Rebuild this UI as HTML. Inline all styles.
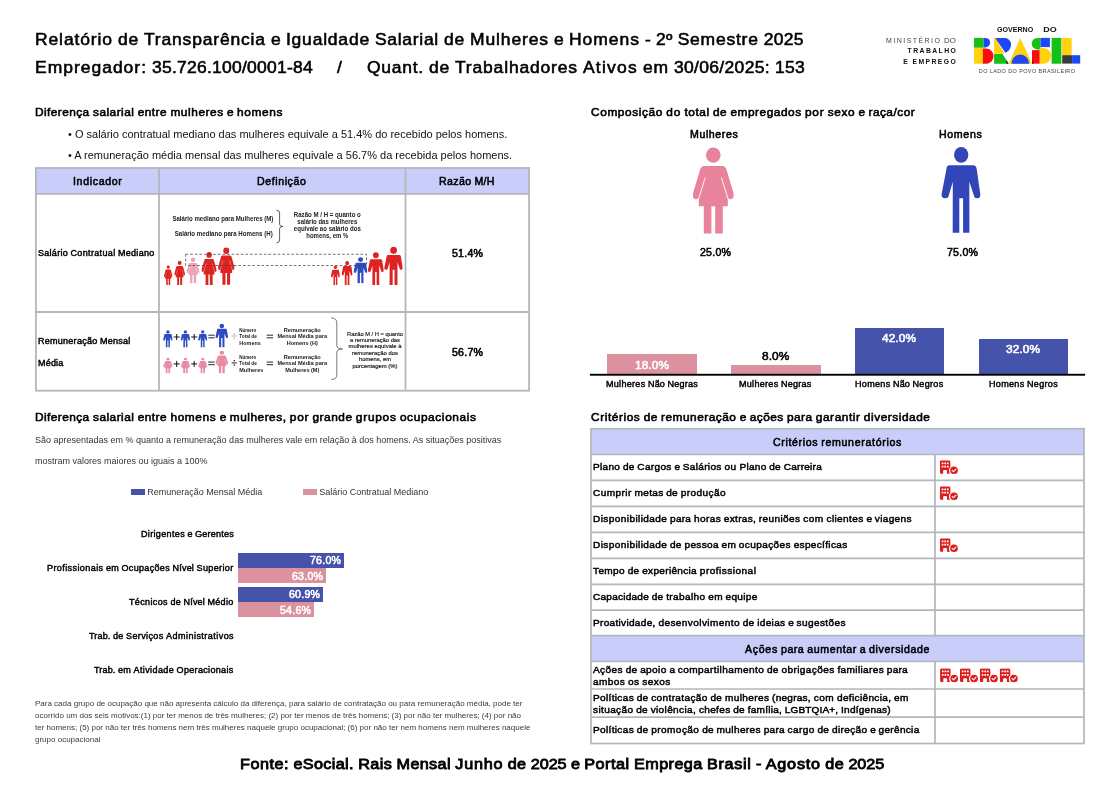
<!DOCTYPE html>
<html lang="pt-BR"><head><meta charset="utf-8"><title>Relatório de Transparência e Igualdade Salarial</title>
<style>
html,body{margin:0;padding:0;background:#fff;}
body{width:1120px;height:792px;position:relative;overflow:hidden;font-family:"Liberation Sans",sans-serif;}
.t{position:absolute;white-space:nowrap;font-weight:normal;line-height:30px;}
.b{position:absolute;}
svg{position:absolute;overflow:visible;}
.img{font-family:"Liberation Sans",sans-serif;}
</style></head><body>
<svg width="0" height="0" style="position:absolute"><defs>
<symbol id="man" viewBox="0 0 40 87" preserveAspectRatio="none">
<ellipse cx="20.2" cy="8.9" rx="7.1" ry="7.9"/>
<path d="M8 19.3 L32.6 19.3 Q35.5 19.5 35.9 24.3 L39.3 48.3 Q39.6 52.3 36.5 52.3 Q33.8 52.3 33.4 51 L28.3 35.7 L28.4 86.8 L22.1 86.8 L22.1 52.3 L18.3 52.3 L18.3 86.8 L11.7 86.8 L11.8 35.7 L7.3 51 Q6.5 52.3 4 52.3 Q0.3 52.3 0.6 48.3 L5.2 24.3 Q5.5 19.5 8 19.3Z"/>
</symbol>
<symbol id="woman" viewBox="0 0 42 87" preserveAspectRatio="none">
<ellipse cx="21.3" cy="8.15" rx="7.3" ry="7.6"/>
<path d="M11.8 18.9 L30.8 18.9 Q34 19.2 34.9 23.9 L41.5 46 Q42.4 52.3 38.6 52.3 Q36.4 52.3 35.8 50.5 L35.8 59.3 L30.8 59.3 L30.8 86.4 L23.2 86.4 L23.2 59.3 L19.4 59.3 L19.4 86.4 L11.8 86.4 L11.8 59.3 L6.8 59.3 L6.8 50.5 Q6.2 52.3 4 52.3 Q0.2 52.3 1.1 46 L7.7 23.9 Q8.6 19.2 11.8 18.9Z"/>
<path d="M13.2 30.5 L6.6 52 M29.4 30.5 L36 52" stroke="#fff" stroke-width="0.9" fill="none"/>
</symbol>
<symbol id="bld" viewBox="0 0 20 15" preserveAspectRatio="none">
<path fill-rule="evenodd" d="M1.6 0.3 H9.6 Q11.1 0.3 11.1 1.8 V7.2 Q9.6 8.6 9.6 10.9 Q9.6 12.8 10.7 14.3 H7.6 V11.4 Q7.6 10.3 6.5 10.3 H4.7 Q3.6 10.3 3.6 11.4 V14.3 H1.6 Q0.2 14.3 0.2 12.9 V1.8 Q0.2 0.3 1.6 0.3Z M2.1 2.4 V4.2 H3.9 V2.4Z M4.8 2.4 V4.2 H6.6 V2.4Z M7.5 2.4 V4.2 H9.3 V2.4Z M2.1 6 V7.8 H3.9 V6Z M4.8 6 V7.8 H6.6 V6Z M7.5 6 V7.8 H9.3 V6Z"/>
<circle cx="14.9" cy="10.6" r="4"/>
<path d="M12.9 10.6 L14.3 12 L16.9 9.3" stroke="#fff" stroke-width="1.1" fill="none" stroke-linecap="round" stroke-linejoin="round"/>
</symbol>
<filter id="soft" x="-5%" y="-5%" width="110%" height="110%"><feGaussianBlur stdDeviation="0.3"/></filter>
</defs></svg>

<div class="t" style="left:35.00px;top:24px;font-size:16.2px;color:#000;-webkit-text-stroke:0.55px #000;word-spacing:0.13px;transform:scaleX(1.08);transform-origin:0 0;"><span style="letter-spacing:0.82px">Relatório</span> <span style="letter-spacing:0.72px">de</span> <span style="letter-spacing:0.77px">Transparência</span> <span style="letter-spacing:0.26px">e</span> <span style="letter-spacing:0.74px">Igualdade</span> <span style="letter-spacing:0.66px">Salarial</span> <span style="letter-spacing:0.72px">de</span> <span style="letter-spacing:0.82px">Mulheres</span> <span style="letter-spacing:0.26px">e</span> <span style="letter-spacing:0.91px">Homens</span> <span style="letter-spacing:0.16px">-</span> <span style="letter-spacing:0.21px">2º</span> <span style="letter-spacing:0.72px">Semestre</span> <span style="letter-spacing:0.26px">2025</span></div>
<div class="t" style="left:35.00px;top:52px;font-size:16.2px;color:#000;-webkit-text-stroke:0.55px #000;word-spacing:0.13px;transform:scaleX(1.08);transform-origin:0 0;"><span style="letter-spacing:0.92px">Empregador:</span> <span style="letter-spacing:0.23px">35.726.100/0001-84</span></div>
<div class="t" style="left:336.60px;top:52px;font-size:16.2px;color:#000;-webkit-text-stroke:0.55px #000;word-spacing:0.13px;transform:scaleX(1.08);transform-origin:0 0;"><span style="letter-spacing:0.13px">/</span></div>
<div class="t" style="left:367.00px;top:52px;font-size:16.2px;color:#000;-webkit-text-stroke:0.55px #000;word-spacing:0.13px;transform:scaleX(1.08);transform-origin:0 0;"><span style="letter-spacing:0.69px">Quant.</span> <span style="letter-spacing:0.72px">de</span> <span style="letter-spacing:0.77px">Trabalhadores</span> <span style="letter-spacing:1.14px">Ativos</span> <span style="letter-spacing:0.79px">em</span> <span style="letter-spacing:0.31px">30/06/2025:</span> <span style="letter-spacing:0.26px">153</span></div>
<div class="t" style="left:35.00px;top:97px;font-size:11.3px;color:#000;-webkit-text-stroke:0.58px #000;word-spacing:0.04px;transform:scaleX(1.05);transform-origin:0 0;"><span style="letter-spacing:0.41px">Diferença</span> <span style="letter-spacing:0.45px">salarial</span> <span style="letter-spacing:0.44px">entre</span> <span style="letter-spacing:0.54px">mulheres</span> <span style="letter-spacing:0.07px">e</span> <span style="letter-spacing:0.60px">homens</span></div>
<div class="t" style="left:68.00px;top:119px;font-size:11px;color:#111;">• O salário contratual mediano das mulheres equivale a 51.4% do recebido pelos homens.</div>
<div class="t" style="left:68.00px;top:140px;font-size:11px;color:#111;">• A remuneração média mensal das mulheres equivale a 56.7% da recebida pelos homens.</div>
<div class="b" style="left:36.00px;top:168.00px;width:493.00px;height:25.80px;background:#c8cdfa;"></div>
<svg style="left:0;top:0" width="1120" height="792" viewBox="0 0 1120 792"><g stroke="#b3b6bb" stroke-width="1.8" fill="none"><rect x="35.9" y="168" width="493.20000000000005" height="222.7"/><line x1="35.9" y1="193.9" x2="529.1" y2="193.9"/><line x1="35.9" y1="312" x2="529.1" y2="312"/><line x1="159" y1="168" x2="159" y2="390.7"/><line x1="405.5" y1="168" x2="405.5" y2="390.7"/></g></svg>
<div class="t" style="left:72.75px;top:167px;font-size:10.1px;color:#000;-webkit-text-stroke:0.53px #000;word-spacing:0.10px;transform:scaleX(1.05);transform-origin:0 0;"><span style="letter-spacing:0.62px">Indicador</span></div>
<div class="t" style="left:257.44px;top:167px;font-size:10.1px;color:#000;-webkit-text-stroke:0.53px #000;word-spacing:0.10px;transform:scaleX(1.05);transform-origin:0 0;"><span style="letter-spacing:0.56px">Definição</span></div>
<div class="t" style="left:439.49px;top:167px;font-size:10.1px;color:#000;-webkit-text-stroke:0.53px #000;word-spacing:0.10px;transform:scaleX(1.05);transform-origin:0 0;"><span style="letter-spacing:0.33px">Razão</span> <span style="letter-spacing:0.23px">M/H</span></div>
<div class="t" style="left:37.60px;top:238px;font-size:8.6px;color:#000;-webkit-text-stroke:0.43px #000;word-spacing:-0.01px;transform:scaleX(1.05);transform-origin:0 0;"><span style="letter-spacing:0.26px">Salário</span> <span style="letter-spacing:0.32px">Contratual</span> <span style="letter-spacing:0.25px">Mediano</span></div>
<div class="t" style="left:37.60px;top:326px;font-size:8.6px;color:#000;-webkit-text-stroke:0.43px #000;word-spacing:-0.01px;transform:scaleX(1.05);transform-origin:0 0;"><span style="letter-spacing:0.24px">Remuneração</span> <span style="letter-spacing:0.22px">Mensal</span></div>
<div class="t" style="left:37.60px;top:348px;font-size:8.6px;color:#000;-webkit-text-stroke:0.43px #000;word-spacing:-0.01px;transform:scaleX(1.05);transform-origin:0 0;"><span style="letter-spacing:0.17px">Média</span></div>
<div class="t" style="left:451.71px;top:239px;font-size:10.1px;color:#000;-webkit-text-stroke:0.53px #000;word-spacing:0.10px;transform:scaleX(1.05);transform-origin:0 0;"><span style="letter-spacing:0.21px">51.4%</span></div>
<div class="t" style="left:451.71px;top:338px;font-size:10.1px;color:#000;-webkit-text-stroke:0.53px #000;word-spacing:0.10px;transform:scaleX(1.05);transform-origin:0 0;"><span style="letter-spacing:0.21px">56.7%</span></div>
<svg class="img" style="left:0;top:0" width="1120" height="792" viewBox="0 0 1120 792">
<g id="def1" filter="url(#soft)">
<text x="273.4" y="220.8" font-size="6.7" text-anchor="end" font-weight="bold" fill="#222" textLength="101" lengthAdjust="spacingAndGlyphs">Salário mediano para Mulheres (M)</text>
<text x="272.7" y="235.7" font-size="6.7" text-anchor="end" font-weight="bold" fill="#222" textLength="98" lengthAdjust="spacingAndGlyphs">Salário mediano para Homens (H)</text>
<path d="M276.4 210.2 Q279.6 210.2 279.6 213 L279.6 224.3 Q279.6 226.5 282.8 226.5 Q279.6 226.5 279.6 228.7 L279.6 240 Q279.6 242.8 276.4 242.8" fill="none" stroke="#333" stroke-width="0.8"/>
<text x="327.3" y="217.1" font-size="6.7" text-anchor="middle" font-weight="bold" fill="#222" textLength="67" lengthAdjust="spacingAndGlyphs">Razão M / H = quanto o</text>
<text x="327.3" y="224.2" font-size="6.7" text-anchor="middle" font-weight="bold" fill="#222" textLength="60" lengthAdjust="spacingAndGlyphs">salário das mulheres</text>
<text x="327.3" y="231.29999999999998" font-size="6.7" text-anchor="middle" font-weight="bold" fill="#222" textLength="67" lengthAdjust="spacingAndGlyphs">equivale ao salário dos</text>
<text x="327.3" y="238.39999999999998" font-size="6.7" text-anchor="middle" font-weight="bold" fill="#222" textLength="42" lengthAdjust="spacingAndGlyphs">homens, em %</text>
<use href="#woman" x="163.70" y="265.20" width="8.90" height="20.00" fill="#df2222"/>
<use href="#woman" x="174.10" y="260.60" width="11.00" height="24.60" fill="#df2222"/>
<use href="#woman" x="186.30" y="257.30" width="13.40" height="26.10" fill="#e9a6ba"/>
<use href="#woman" x="201.20" y="251.80" width="15.60" height="33.40" fill="#df2222"/>
<use href="#woman" x="217.60" y="247.30" width="17.10" height="37.60" fill="#df2222"/>
<use href="#man" x="330.80" y="265.20" width="9.20" height="20.00" fill="#df2222"/>
<use href="#man" x="341.50" y="260.60" width="11.20" height="24.60" fill="#df2222"/>
<use href="#man" x="353.40" y="256.90" width="14.20" height="26.50" fill="#2f4cc2"/>
<use href="#man" x="367.60" y="251.80" width="16.40" height="33.40" fill="#df2222"/>
<use href="#man" x="384.00" y="246.40" width="19.00" height="38.80" fill="#df2222"/>
<rect x="185.6" y="254.3" width="180.9" height="11.2" fill="none" stroke="#3a3a3a" stroke-width="0.7" stroke-dasharray="2.7 1.9"/>
</g>
<g id="def2" filter="url(#soft)">
<use href="#man" x="163.00" y="330.10" width="9.75" height="17.50" fill="#2f4cc2"/>
<use href="#man" x="180.50" y="330.10" width="9.75" height="17.50" fill="#2f4cc2"/>
<use href="#man" x="198.00" y="330.10" width="9.40" height="17.50" fill="#2f4cc2"/>
<use href="#man" x="215.25" y="323.50" width="13.00" height="24.10" fill="#2f4cc2"/>
<path d="M173.7 337H179.7M176.7 334V340" stroke="#111" stroke-width="1" fill="none"/>
<path d="M191.2 337H197.2M194.2 334V340" stroke="#111" stroke-width="1" fill="none"/>
<path d="M208.3 335.2H214.7M208.3 337.8H214.7" stroke="#111" stroke-width="0.9" fill="none"/>
<path d="M231.65 336H236.85" stroke="#aaa" stroke-width="0.9" fill="none"/><circle cx="234.25" cy="333.9" r="0.75" fill="#aaa"/><circle cx="234.25" cy="338.1" r="0.75" fill="#aaa"/>
<text x="239.3" y="332.1" font-size="5.4" text-anchor="start" font-weight="bold" fill="#222" textLength="17" lengthAdjust="spacingAndGlyphs">Número</text>
<text x="239.3" y="338.35" font-size="5.4" text-anchor="start" font-weight="bold" fill="#222" textLength="17.5" lengthAdjust="spacingAndGlyphs">Total de</text>
<text x="239.3" y="344.6" font-size="5.4" text-anchor="start" font-weight="bold" fill="#222" textLength="21.5" lengthAdjust="spacingAndGlyphs">Homens</text>
<path d="M266.7 335.2H273.09999999999997M266.7 337.8H273.09999999999997" stroke="#111" stroke-width="0.9" fill="none"/>
<text x="302.25" y="332.1" font-size="5.4" text-anchor="middle" font-weight="bold" fill="#222" textLength="37" lengthAdjust="spacingAndGlyphs">Remuneração</text>
<text x="302.25" y="338.35" font-size="5.4" text-anchor="middle" font-weight="bold" fill="#222" textLength="49.6" lengthAdjust="spacingAndGlyphs">Mensal Média para</text>
<text x="302.25" y="344.6" font-size="5.4" text-anchor="middle" font-weight="bold" fill="#222" textLength="31" lengthAdjust="spacingAndGlyphs">Homens (H)</text>
<use href="#woman" x="163.00" y="357.60" width="9.75" height="15.80" fill="#e98aa3"/>
<use href="#woman" x="180.50" y="357.60" width="9.75" height="15.80" fill="#e98aa3"/>
<use href="#woman" x="198.00" y="357.60" width="9.40" height="15.80" fill="#e98aa3"/>
<use href="#woman" x="215.25" y="350.50" width="13.00" height="22.90" fill="#e98aa3"/>
<path d="M173.7 363.9H179.7M176.7 360.9V366.9" stroke="#111" stroke-width="1" fill="none"/>
<path d="M191.2 363.9H197.2M194.2 360.9V366.9" stroke="#111" stroke-width="1" fill="none"/>
<path d="M208.3 362.09999999999997H214.7M208.3 364.7H214.7" stroke="#111" stroke-width="0.9" fill="none"/>
<path d="M231.65 362.9H236.85" stroke="#111" stroke-width="0.9" fill="none"/><circle cx="234.25" cy="360.79999999999995" r="0.75" fill="#111"/><circle cx="234.25" cy="365.0" r="0.75" fill="#111"/>
<text x="239.3" y="359.0" font-size="5.4" text-anchor="start" font-weight="bold" fill="#222" textLength="17" lengthAdjust="spacingAndGlyphs">Número</text>
<text x="239.3" y="365.25" font-size="5.4" text-anchor="start" font-weight="bold" fill="#222" textLength="17.5" lengthAdjust="spacingAndGlyphs">Total de</text>
<text x="239.3" y="371.5" font-size="5.4" text-anchor="start" font-weight="bold" fill="#222" textLength="24" lengthAdjust="spacingAndGlyphs">Mulheres</text>
<path d="M266.7 362.09999999999997H273.09999999999997M266.7 364.7H273.09999999999997" stroke="#111" stroke-width="0.9" fill="none"/>
<text x="302.25" y="359.0" font-size="5.4" text-anchor="middle" font-weight="bold" fill="#222" textLength="37" lengthAdjust="spacingAndGlyphs">Remuneração</text>
<text x="302.25" y="365.25" font-size="5.4" text-anchor="middle" font-weight="bold" fill="#222" textLength="49.6" lengthAdjust="spacingAndGlyphs">Mensal Média para</text>
<text x="302.25" y="371.5" font-size="5.4" text-anchor="middle" font-weight="bold" fill="#222" textLength="34" lengthAdjust="spacingAndGlyphs">Mulheres (M)</text>
<path d="M331.3 318 Q336.8 318 336.8 323 L336.8 345.5 Q336.8 349 342.5 349 Q336.8 349 336.8 352.5 L336.8 374.5 Q336.8 379.5 331.3 379.5" fill="none" stroke="#555" stroke-width="0.8"/>
<text stroke="#111" stroke-width="0.15" x="375" y="335.5" font-size="5.9" text-anchor="middle" font-weight="normal" fill="#111" textLength="56" lengthAdjust="spacingAndGlyphs">Razão M / H = quanto</text>
<text stroke="#111" stroke-width="0.15" x="375" y="341.9" font-size="5.9" text-anchor="middle" font-weight="normal" fill="#111" textLength="50" lengthAdjust="spacingAndGlyphs">a remuneração das</text>
<text stroke="#111" stroke-width="0.15" x="375" y="348.3" font-size="5.9" text-anchor="middle" font-weight="normal" fill="#111" textLength="53" lengthAdjust="spacingAndGlyphs">mulheres equivale à</text>
<text stroke="#111" stroke-width="0.15" x="375" y="354.7" font-size="5.9" text-anchor="middle" font-weight="normal" fill="#111" textLength="46" lengthAdjust="spacingAndGlyphs">remuneração dos</text>
<text stroke="#111" stroke-width="0.15" x="375" y="361.1" font-size="5.9" text-anchor="middle" font-weight="normal" fill="#111" textLength="32" lengthAdjust="spacingAndGlyphs">homens, em</text>
<text stroke="#111" stroke-width="0.15" x="375" y="367.5" font-size="5.9" text-anchor="middle" font-weight="normal" fill="#111" textLength="45" lengthAdjust="spacingAndGlyphs">porcentagem (%)</text>
</g></svg>
<div class="t" style="left:590.50px;top:97px;font-size:11.3px;color:#000;-webkit-text-stroke:0.58px #000;word-spacing:0.04px;transform:scaleX(1.05);transform-origin:0 0;"><span style="letter-spacing:0.58px">Composição</span> <span style="letter-spacing:0.70px">do</span> <span style="letter-spacing:0.55px">total</span> <span style="letter-spacing:0.38px">de</span> <span style="letter-spacing:0.51px">empregados</span> <span style="letter-spacing:0.69px">por</span> <span style="letter-spacing:0.55px">sexo</span> <span style="letter-spacing:0.07px">e</span> <span style="letter-spacing:0.46px">raça/cor</span></div>
<div class="t" style="left:689.65px;top:120px;font-size:10.1px;color:#000;-webkit-text-stroke:0.53px #000;word-spacing:0.10px;transform:scaleX(1.05);transform-origin:0 0;"><span style="letter-spacing:0.56px">Mulheres</span></div>
<div class="t" style="left:939.40px;top:120px;font-size:10.1px;color:#000;-webkit-text-stroke:0.53px #000;word-spacing:0.10px;transform:scaleX(1.05);transform-origin:0 0;"><span style="letter-spacing:0.62px">Homens</span></div>
<div class="t" style="left:699.61px;top:238px;font-size:10.1px;color:#000;-webkit-text-stroke:0.53px #000;word-spacing:0.10px;transform:scaleX(1.05);transform-origin:0 0;"><span style="letter-spacing:0.21px">25.0%</span></div>
<div class="t" style="left:947.11px;top:238px;font-size:10.1px;color:#000;-webkit-text-stroke:0.53px #000;word-spacing:0.10px;transform:scaleX(1.05);transform-origin:0 0;"><span style="letter-spacing:0.21px">75.0%</span></div>
<svg style="left:0;top:0" width="1120" height="792" viewBox="0 0 1120 792"><use href="#woman" x="692.00" y="147.00" width="42.00" height="87.00" fill="#e9829b"/><use href="#man" x="941.00" y="146.00" width="40.00" height="87.00" fill="#3245b9"/></svg>
<div class="b" style="left:607.00px;top:354.25px;width:89.75px;height:19.95px;background:#dc919f;"></div>
<div class="t" style="left:634.86px;top:350px;font-size:11.3px;color:#fff;-webkit-text-stroke:0.58px #fff;word-spacing:0.04px;transform:scaleX(1.05);transform-origin:0 0;"><span style="letter-spacing:0.07px">18.0%</span></div>
<div class="t" style="left:605.86px;top:369px;font-size:8.6px;color:#000;-webkit-text-stroke:0.43px #000;word-spacing:-0.01px;transform:scaleX(1.05);transform-origin:0 0;"><span style="letter-spacing:0.28px">Mulheres</span> <span style="letter-spacing:0.14px">Não</span> <span style="letter-spacing:0.22px">Negras</span></div>
<div class="b" style="left:730.75px;top:365.00px;width:89.75px;height:9.20px;background:#dc919f;"></div>
<div class="t" style="left:761.95px;top:341px;font-size:11.3px;color:#000;-webkit-text-stroke:0.58px #000;word-spacing:0.04px;transform:scaleX(1.05);transform-origin:0 0;"><span style="letter-spacing:0.07px">8.0%</span></div>
<div class="t" style="left:739.36px;top:369px;font-size:8.6px;color:#000;-webkit-text-stroke:0.43px #000;word-spacing:-0.01px;transform:scaleX(1.05);transform-origin:0 0;"><span style="letter-spacing:0.28px">Mulheres</span> <span style="letter-spacing:0.22px">Negras</span></div>
<div class="b" style="left:854.50px;top:327.50px;width:89.75px;height:46.70px;background:#4653ab;"></div>
<div class="t" style="left:882.36px;top:323px;font-size:11.3px;color:#fff;-webkit-text-stroke:0.58px #fff;word-spacing:0.04px;transform:scaleX(1.05);transform-origin:0 0;"><span style="letter-spacing:0.07px">42.0%</span></div>
<div class="t" style="left:855.12px;top:369px;font-size:8.6px;color:#000;-webkit-text-stroke:0.43px #000;word-spacing:-0.01px;transform:scaleX(1.05);transform-origin:0 0;"><span style="letter-spacing:0.30px">Homens</span> <span style="letter-spacing:0.14px">Não</span> <span style="letter-spacing:0.30px">Negros</span></div>
<div class="b" style="left:978.50px;top:338.75px;width:89.75px;height:35.45px;background:#4653ab;"></div>
<div class="t" style="left:1006.36px;top:334px;font-size:11.3px;color:#fff;-webkit-text-stroke:0.58px #fff;word-spacing:0.04px;transform:scaleX(1.05);transform-origin:0 0;"><span style="letter-spacing:0.07px">32.0%</span></div>
<div class="t" style="left:988.87px;top:369px;font-size:8.6px;color:#000;-webkit-text-stroke:0.43px #000;word-spacing:-0.01px;transform:scaleX(1.05);transform-origin:0 0;"><span style="letter-spacing:0.30px">Homens</span> <span style="letter-spacing:0.30px">Negros</span></div>
<svg style="left:0;top:0" width="1120" height="792" viewBox="0 0 1120 792"><rect x="589.9" y="373.8" width="495.2" height="1.9" fill="#000"/></svg>
<div class="t" style="left:35.00px;top:402px;font-size:11.3px;color:#000;-webkit-text-stroke:0.58px #000;word-spacing:0.04px;transform:scaleX(1.05);transform-origin:0 0;"><span style="letter-spacing:0.41px">Diferença</span> <span style="letter-spacing:0.45px">salarial</span> <span style="letter-spacing:0.44px">entre</span> <span style="letter-spacing:0.60px">homens</span> <span style="letter-spacing:0.07px">e</span> <span style="letter-spacing:0.49px">mulheres,</span> <span style="letter-spacing:0.69px">por</span> <span style="letter-spacing:0.49px">grande</span> <span style="letter-spacing:0.70px">grupos</span> <span style="letter-spacing:0.59px">ocupacionais</span></div>
<div class="t" style="left:35.00px;top:425px;font-size:9px;color:#333;">São apresentadas em % quanto a remuneração das mulheres vale em relação à dos homens. As situações positivas</div>
<div class="t" style="left:35.00px;top:446px;font-size:9px;color:#333;">mostram valores maiores ou iguais a 100%</div>
<div class="b" style="left:130.50px;top:489.40px;width:14.60px;height:5.80px;background:#4653ab;"></div>
<div class="t" style="left:147.30px;top:477px;font-size:9px;color:#333;">Remuneração Mensal Média</div>
<div class="b" style="left:302.50px;top:489.40px;width:14.60px;height:5.80px;background:#dc919f;"></div>
<div class="t" style="left:319.30px;top:477px;font-size:9px;color:#333;">Salário Contratual Mediano</div>
<div class="t" style="left:140.56px;top:519px;font-size:8.6px;color:#000;-webkit-text-stroke:0.43px #000;word-spacing:-0.01px;transform:scaleX(1.05);transform-origin:0 0;"><span style="letter-spacing:0.32px">Dirigentes</span> <span style="letter-spacing:-0.02px">e</span> <span style="letter-spacing:0.22px">Gerentes</span></div>
<div class="t" style="left:47.03px;top:553px;font-size:8.6px;color:#000;-webkit-text-stroke:0.43px #000;word-spacing:-0.01px;transform:scaleX(1.05);transform-origin:0 0;"><span style="letter-spacing:0.39px">Profissionais</span> <span style="letter-spacing:0.22px">em</span> <span style="letter-spacing:0.30px">Ocupações</span> <span style="letter-spacing:0.18px">Nível</span> <span style="letter-spacing:0.34px">Superior</span></div>
<div class="t" style="left:129.07px;top:587px;font-size:8.6px;color:#000;-webkit-text-stroke:0.43px #000;word-spacing:-0.01px;transform:scaleX(1.05);transform-origin:0 0;"><span style="letter-spacing:0.34px">Técnicos</span> <span style="letter-spacing:0.22px">de</span> <span style="letter-spacing:0.18px">Nível</span> <span style="letter-spacing:0.27px">Médio</span></div>
<div class="t" style="left:88.88px;top:621px;font-size:8.6px;color:#000;-webkit-text-stroke:0.43px #000;word-spacing:-0.01px;transform:scaleX(1.05);transform-origin:0 0;"><span style="letter-spacing:0.15px">Trab.</span> <span style="letter-spacing:0.22px">de</span> <span style="letter-spacing:0.35px">Serviços</span> <span style="letter-spacing:0.43px">Administrativos</span></div>
<div class="t" style="left:94.39px;top:655px;font-size:8.6px;color:#000;-webkit-text-stroke:0.43px #000;word-spacing:-0.01px;transform:scaleX(1.05);transform-origin:0 0;"><span style="letter-spacing:0.15px">Trab.</span> <span style="letter-spacing:0.22px">em</span> <span style="letter-spacing:0.36px">Atividade</span> <span style="letter-spacing:0.30px">Operacionais</span></div>
<div class="b" style="left:237.80px;top:553.10px;width:106.20px;height:14.70px;background:#4653ab;"></div>
<div class="t" style="left:310.21px;top:546px;font-size:10.1px;color:#fff;-webkit-text-stroke:0.53px #fff;word-spacing:0.10px;transform:scaleX(1.05);transform-origin:0 0;"><span style="letter-spacing:0.21px">76.0%</span></div>
<div class="b" style="left:237.80px;top:568.10px;width:88.20px;height:14.60px;background:#dc919f;"></div>
<div class="t" style="left:292.21px;top:562px;font-size:10.1px;color:#fff;-webkit-text-stroke:0.53px #fff;word-spacing:0.10px;transform:scaleX(1.05);transform-origin:0 0;"><span style="letter-spacing:0.21px">63.0%</span></div>
<div class="b" style="left:237.80px;top:587.40px;width:85.10px;height:14.30px;background:#4653ab;"></div>
<div class="t" style="left:289.11px;top:580px;font-size:10.1px;color:#fff;-webkit-text-stroke:0.53px #fff;word-spacing:0.10px;transform:scaleX(1.05);transform-origin:0 0;"><span style="letter-spacing:0.21px">60.9%</span></div>
<div class="b" style="left:237.80px;top:602.00px;width:76.20px;height:14.50px;background:#dc919f;"></div>
<div class="t" style="left:280.21px;top:596px;font-size:10.1px;color:#fff;-webkit-text-stroke:0.53px #fff;word-spacing:0.10px;transform:scaleX(1.05);transform-origin:0 0;"><span style="letter-spacing:0.21px">54.6%</span></div>
<div class="t" style="left:35.00px;top:689px;font-size:8px;color:#3a3a3a;">Para cada grupo de ocupação que não apresenta cálculo da diferença, para salário de contratação ou para remuneração média, pode ter</div>
<div class="t" style="left:35.00px;top:701px;font-size:8px;color:#3a3a3a;">ocorrido um dos seis motivos:(1) por ter menos de três mulheres; (2) por ter menos de três homens; (3) por não ter mulheres; (4) por não</div>
<div class="t" style="left:35.00px;top:713px;font-size:8px;color:#3a3a3a;">ter homens; (5) por não ter três homens nem três mulheres naquele grupo ocupacional; (6) por não ter nem homens nem mulheres naquele</div>
<div class="t" style="left:35.00px;top:725px;font-size:8px;color:#3a3a3a;">grupo ocupacional</div>
<div class="t" style="left:240.00px;top:749px;font-size:15.0px;color:#000;-webkit-text-stroke:0.85px #000;word-spacing:-0.05px;transform:scaleX(1.08);transform-origin:0 0;"><span style="letter-spacing:0.46px">Fonte:</span> <span style="letter-spacing:0.33px">eSocial.</span> <span style="letter-spacing:0.32px">Rais</span> <span style="letter-spacing:0.31px">Mensal</span> <span style="letter-spacing:0.71px">Junho</span> <span style="letter-spacing:0.30px">de</span> <span style="letter-spacing:-0.10px">2025</span> <span style="letter-spacing:-0.10px">e</span> <span style="letter-spacing:0.47px">Portal</span> <span style="letter-spacing:0.36px">Emprega</span> <span style="letter-spacing:0.61px">Brasil</span> <span style="letter-spacing:-0.06px">-</span> <span style="letter-spacing:0.72px">Agosto</span> <span style="letter-spacing:0.30px">de</span> <span style="letter-spacing:-0.10px">2025</span></div>
<div class="t" style="left:590.50px;top:402px;font-size:11.3px;color:#000;-webkit-text-stroke:0.58px #000;word-spacing:0.04px;transform:scaleX(1.05);transform-origin:0 0;"><span style="letter-spacing:0.55px">Critérios</span> <span style="letter-spacing:0.38px">de</span> <span style="letter-spacing:0.47px">remuneração</span> <span style="letter-spacing:0.07px">e</span> <span style="letter-spacing:0.45px">ações</span> <span style="letter-spacing:0.38px">para</span> <span style="letter-spacing:0.53px">garantir</span> <span style="letter-spacing:0.52px">diversidade</span></div>
<div class="b" style="left:591.00px;top:429.00px;width:493.00px;height:25.00px;background:#c8cdfa;"></div>
<div class="b" style="left:591.00px;top:636.00px;width:493.00px;height:25.50px;background:#c8cdfa;"></div>
<svg style="left:0;top:0" width="1120" height="792" viewBox="0 0 1120 792"><g stroke="#b3b6bb" stroke-width="1.7" fill="none"><rect x="591" y="428.7" width="493" height="314.8"/><line x1="591" y1="454.5" x2="1084" y2="454.5"/><line x1="591" y1="480.4" x2="1084" y2="480.4"/><line x1="591" y1="506.3" x2="1084" y2="506.3"/><line x1="591" y1="532.3" x2="1084" y2="532.3"/><line x1="591" y1="558.3" x2="1084" y2="558.3"/><line x1="591" y1="584.3" x2="1084" y2="584.3"/><line x1="591" y1="610.2" x2="1084" y2="610.2"/><line x1="591" y1="635.6" x2="1084" y2="635.6"/><line x1="591" y1="661.5" x2="1084" y2="661.5"/><line x1="591" y1="689" x2="1084" y2="689"/><line x1="591" y1="717.2" x2="1084" y2="717.2"/><line x1="935" y1="454.5" x2="935" y2="635.6"/><line x1="935" y1="661.5" x2="935" y2="743.5"/></g></svg>
<div class="t" style="left:773.01px;top:428px;font-size:10.1px;color:#000;-webkit-text-stroke:0.53px #000;word-spacing:0.10px;transform:scaleX(1.05);transform-origin:0 0;"><span style="letter-spacing:0.61px">Critérios</span> <span style="letter-spacing:0.64px">remuneratórios</span></div>
<div class="t" style="left:744.88px;top:635px;font-size:10.1px;color:#000;-webkit-text-stroke:0.53px #000;word-spacing:0.10px;transform:scaleX(1.05);transform-origin:0 0;"><span style="letter-spacing:0.67px">Ações</span> <span style="letter-spacing:0.48px">para</span> <span style="letter-spacing:0.56px">aumentar</span> <span style="letter-spacing:0.21px">a</span> <span style="letter-spacing:0.60px">diversidade</span></div>
<div class="t" style="left:593.30px;top:452px;font-size:9.9px;color:#000;-webkit-text-stroke:0.48px #000;word-spacing:-0.03px;transform:scaleX(1.02);transform-origin:0 0;"><span style="letter-spacing:0.27px">Plano</span> <span style="letter-spacing:0.21px">de</span> <span style="letter-spacing:0.31px">Cargos</span> <span style="letter-spacing:-0.05px">e</span> <span style="letter-spacing:0.30px">Salários</span> <span style="letter-spacing:0.48px">ou</span> <span style="letter-spacing:0.27px">Plano</span> <span style="letter-spacing:0.21px">de</span> <span style="letter-spacing:0.23px">Carreira</span></div>
<div class="t" style="left:593.30px;top:478px;font-size:9.9px;color:#000;-webkit-text-stroke:0.48px #000;word-spacing:-0.03px;transform:scaleX(1.02);transform-origin:0 0;"><span style="letter-spacing:0.42px">Cumprir</span> <span style="letter-spacing:0.28px">metas</span> <span style="letter-spacing:0.21px">de</span> <span style="letter-spacing:0.42px">produção</span></div>
<div class="t" style="left:593.30px;top:504px;font-size:9.9px;color:#000;-webkit-text-stroke:0.48px #000;word-spacing:-0.03px;transform:scaleX(1.02);transform-origin:0 0;"><span style="letter-spacing:0.39px">Disponibilidade</span> <span style="letter-spacing:0.22px">para</span> <span style="letter-spacing:0.39px">horas</span> <span style="letter-spacing:0.27px">extras,</span> <span style="letter-spacing:0.36px">reuniões</span> <span style="letter-spacing:0.49px">com</span> <span style="letter-spacing:0.37px">clientes</span> <span style="letter-spacing:-0.05px">e</span> <span style="letter-spacing:0.34px">viagens</span></div>
<div class="t" style="left:593.30px;top:530px;font-size:9.9px;color:#000;-webkit-text-stroke:0.48px #000;word-spacing:-0.03px;transform:scaleX(1.02);transform-origin:0 0;"><span style="letter-spacing:0.39px">Disponibilidade</span> <span style="letter-spacing:0.21px">de</span> <span style="letter-spacing:0.31px">pessoa</span> <span style="letter-spacing:0.21px">em</span> <span style="letter-spacing:0.37px">ocupações</span> <span style="letter-spacing:0.30px">específicas</span></div>
<div class="t" style="left:593.30px;top:556px;font-size:9.9px;color:#000;-webkit-text-stroke:0.48px #000;word-spacing:-0.03px;transform:scaleX(1.02);transform-origin:0 0;"><span style="letter-spacing:0.34px">Tempo</span> <span style="letter-spacing:0.21px">de</span> <span style="letter-spacing:0.30px">experiência</span> <span style="letter-spacing:0.46px">profissional</span></div>
<div class="t" style="left:593.30px;top:582px;font-size:9.9px;color:#000;-webkit-text-stroke:0.48px #000;word-spacing:-0.03px;transform:scaleX(1.02);transform-origin:0 0;"><span style="letter-spacing:0.22px">Capacidade</span> <span style="letter-spacing:0.21px">de</span> <span style="letter-spacing:0.36px">trabalho</span> <span style="letter-spacing:0.21px">em</span> <span style="letter-spacing:0.31px">equipe</span></div>
<div class="t" style="left:593.30px;top:608px;font-size:9.9px;color:#000;-webkit-text-stroke:0.48px #000;word-spacing:-0.03px;transform:scaleX(1.02);transform-origin:0 0;"><span style="letter-spacing:0.29px">Proatividade,</span> <span style="letter-spacing:0.39px">desenvolvimento</span> <span style="letter-spacing:0.21px">de</span> <span style="letter-spacing:0.32px">ideias</span> <span style="letter-spacing:-0.05px">e</span> <span style="letter-spacing:0.37px">sugestões</span></div>
<div class="t" style="left:593.30px;top:655px;font-size:9.9px;color:#000;-webkit-text-stroke:0.48px #000;word-spacing:-0.03px;transform:scaleX(1.02);transform-origin:0 0;"><span style="letter-spacing:0.38px">Ações</span> <span style="letter-spacing:0.21px">de</span> <span style="letter-spacing:0.38px">apoio</span> <span style="letter-spacing:-0.05px">a</span> <span style="letter-spacing:0.39px">compartilhamento</span> <span style="letter-spacing:0.21px">de</span> <span style="letter-spacing:0.39px">obrigações</span> <span style="letter-spacing:0.34px">familiares</span> <span style="letter-spacing:0.22px">para</span></div>
<div class="t" style="left:593.30px;top:667px;font-size:9.9px;color:#000;-webkit-text-stroke:0.48px #000;word-spacing:-0.03px;transform:scaleX(1.02);transform-origin:0 0;"><span style="letter-spacing:0.38px">ambos</span> <span style="letter-spacing:0.49px">os</span> <span style="letter-spacing:0.39px">sexos</span></div>
<div class="t" style="left:593.30px;top:683px;font-size:9.9px;color:#000;-webkit-text-stroke:0.48px #000;word-spacing:-0.03px;transform:scaleX(1.02);transform-origin:0 0;"><span style="letter-spacing:0.32px">Políticas</span> <span style="letter-spacing:0.21px">de</span> <span style="letter-spacing:0.35px">contratação</span> <span style="letter-spacing:0.21px">de</span> <span style="letter-spacing:0.36px">mulheres</span> <span style="letter-spacing:0.23px">(negras,</span> <span style="letter-spacing:0.49px">com</span> <span style="letter-spacing:0.32px">deficiência,</span> <span style="letter-spacing:0.21px">em</span></div>
<div class="t" style="left:593.30px;top:695px;font-size:9.9px;color:#000;-webkit-text-stroke:0.48px #000;word-spacing:-0.03px;transform:scaleX(1.02);transform-origin:0 0;"><span style="letter-spacing:0.36px">situação</span> <span style="letter-spacing:0.21px">de</span> <span style="letter-spacing:0.34px">violência,</span> <span style="letter-spacing:0.32px">chefes</span> <span style="letter-spacing:0.21px">de</span> <span style="letter-spacing:0.23px">família,</span> <span style="letter-spacing:0.12px">LGBTQIA+,</span> <span style="letter-spacing:0.22px">Indígenas)</span></div>
<div class="t" style="left:593.30px;top:715px;font-size:9.9px;color:#000;-webkit-text-stroke:0.48px #000;word-spacing:-0.03px;transform:scaleX(1.02);transform-origin:0 0;"><span style="letter-spacing:0.32px">Políticas</span> <span style="letter-spacing:0.21px">de</span> <span style="letter-spacing:0.42px">promoção</span> <span style="letter-spacing:0.21px">de</span> <span style="letter-spacing:0.36px">mulheres</span> <span style="letter-spacing:0.22px">para</span> <span style="letter-spacing:0.39px">cargo</span> <span style="letter-spacing:0.21px">de</span> <span style="letter-spacing:0.34px">direção</span> <span style="letter-spacing:-0.05px">e</span> <span style="letter-spacing:0.29px">gerência</span></div>
<svg style="left:0;top:0" width="1120" height="792" viewBox="0 0 1120 792"><use href="#bld" x="939.7" y="460.1" width="19.2" height="14.4" fill="#dd1c1c"/><use href="#bld" x="939.7" y="486.1" width="19.2" height="14.4" fill="#dd1c1c"/><use href="#bld" x="939.7" y="538.1" width="19.2" height="14.4" fill="#dd1c1c"/><use href="#bld" x="939.90" y="668.3" width="19.2" height="14.4" fill="#dd1c1c"/><use href="#bld" x="959.80" y="668.3" width="19.2" height="14.4" fill="#dd1c1c"/><use href="#bld" x="979.70" y="668.3" width="19.2" height="14.4" fill="#dd1c1c"/><use href="#bld" x="999.60" y="668.3" width="19.2" height="14.4" fill="#dd1c1c"/></svg>
<svg class="img" style="left:0;top:0" width="1120" height="792" viewBox="0 0 1120 792"><g filter="url(#soft)">
<text x="939.9" y="42.6" font-size="7.0" text-anchor="end" font-weight="normal" fill="#444" textLength="53.8" lengthAdjust="spacing">MINISTÉRIO</text>
<text x="955.8" y="42.6" font-size="7.0" text-anchor="end" font-weight="normal" fill="#444" textLength="11.8" lengthAdjust="spacingAndGlyphs">DO</text>
<text x="955.8" y="53.3" font-size="6.8" text-anchor="end" font-weight="bold" fill="#111" textLength="48.2" lengthAdjust="spacing">TRABALHO</text>
<text x="907.7" y="64" font-size="6.8" text-anchor="end" font-weight="bold" fill="#111">E</text>
<text x="955.8" y="64" font-size="6.8" text-anchor="end" font-weight="bold" fill="#111" textLength="43.3" lengthAdjust="spacing">EMPREGO</text>
<text x="997.0" y="31.9" font-size="6.8" text-anchor="start" font-weight="bold" fill="#111" textLength="36.2" lengthAdjust="spacingAndGlyphs">GOVERNO</text>
<text x="1043.2" y="31.9" font-size="6.8" text-anchor="start" font-weight="bold" fill="#111" textLength="13.4" lengthAdjust="spacingAndGlyphs">DO</text>
<text x="1026.9" y="73.1" font-size="5.5" text-anchor="middle" font-weight="normal" fill="#444" textLength="96.2" lengthAdjust="spacing">DO LADO DO POVO BRASILEIRO</text>
<rect x="974" y="37.9" width="9.7" height="9.9" fill="#12c012"/>
<path d="M983.7 37.9 H985.3 A4.8 4.8 0 0 1 985.3 47.5 H983.7Z" fill="#1f48f5"/>
<rect x="974" y="47.7" width="9" height="16" fill="#ffd20a"/>
<path d="M982.9 48.5 H986 A7.6 7.6 0 0 1 986 63.7 H982.9Z" fill="#fb0a0a"/>
<path d="M994.1 37.9 H995.4 L1004.6 53.8 H994.1Z" fill="#ffd20a"/>
<path d="M995.2 37.9 H1006 Q1011.6 40 1011 45.2 Q1010.4 50.6 1005.4 52.7Z" fill="#1f48f5"/>
<path d="M994.1 54.1 H1002.5 L1007.7 61.9 V63.7 H994.1Z" fill="#12c012"/>
<path d="M1006.3 60 L1008.8 63.7 H1006.3Z" fill="#2b2b2b"/>
<path d="M1020.3 38 L1031.9 63.7 H1008.7Z" fill="#ffd20a"/>
<path d="M1011.45 63.7 A8.85 9.1 0 0 1 1029.15 63.7Z" fill="#1f48f5"/>
<path d="M1040.5 37.9 H1037.5 A5.8 5.8 0 0 0 1037.5 49.5 H1040.5Z" fill="#12c012"/>
<rect x="1040.5" y="37.9" width="9.4" height="9.2" fill="#1f48f5"/>
<rect x="1032" y="50.1" width="7.8" height="13.6" fill="#fb0a0a"/>
<path d="M1032 59.5 L1033.6 63.7 H1032Z" fill="#2b2b2b"/>
<path d="M1039.7 47.9 H1043.3 A7.9 7.9 0 0 1 1043.3 63.7 H1039.7Z" fill="#ffd20a"/>
<rect x="1051.6" y="37.9" width="9.8" height="25.8" fill="#12c012"/>
<rect x="1062" y="37.9" width="9.6" height="17.3" fill="#ffd20a"/>
<rect x="1062.2" y="55.2" width="9.9" height="8.4" fill="#3a3a3a"/>
<rect x="1072.1" y="55.2" width="8.1" height="8.4" fill="#1f48f5"/>
</g></svg>
</body></html>
